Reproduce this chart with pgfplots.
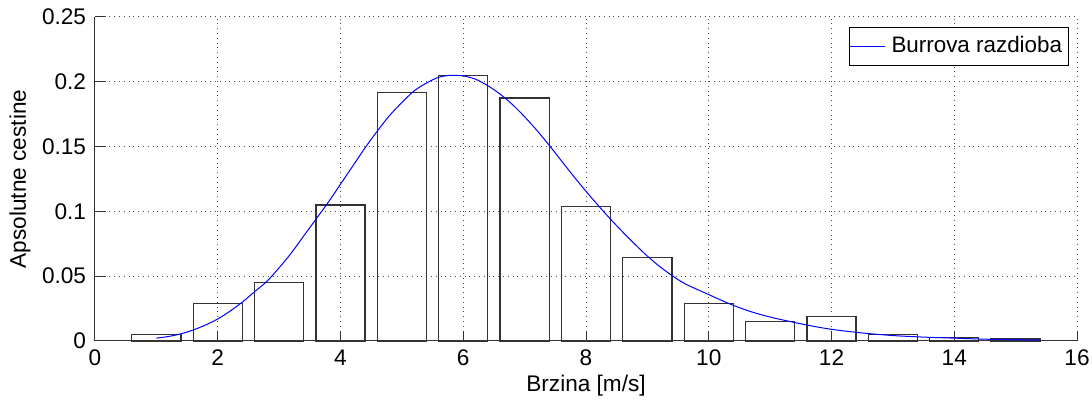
\documentclass[border=0pt]{standalone}
\usepackage{fontspec}
\setmainfont{Liberation Sans}
\usepackage{pgfplots}
\pgfplotsset{compat=1.18}
\begin{document}
\fontsize{11.3}{13.5}\selectfont
\begin{tikzpicture}
\begin{axis}[
  scale only axis,
  width=491pt, height=162pt,
  xmin=0, xmax=16, ymin=0, ymax=0.25,
  axis x line*=bottom, axis y line*=left,
  axis line style={-, black!80, line width=0.5pt},
  xtick={0,2,4,6,8,10,12,14,16},
  xticklabels={0,2,4,6,8,10,12,14,16},
  ytick={0,0.05,0.1,0.15,0.2,0.25},
  yticklabels={0,0.05,0.1,0.15,0.2,0.25},
  tick align=inside,
  major tick length=5pt,
  tick style={black!80, line width=0.5pt},
  grid=major,
  major grid style={dotted, black!70, line width=0.5pt},
  ticklabel style={font=\fontsize{11.3}{13.5}\selectfont},
  xticklabel style={yshift=-0.5pt},
  yticklabel style={xshift=-0.5pt},
  xlabel={Brzina [m/s]},
  ylabel={Apsolutne cestine},
  label style={font=\fontsize{11.3}{13.5}\selectfont},
  xlabel style={yshift=3pt},
  ylabel style={yshift=-2pt},
  legend style={at={(1,1)}, xshift=-4pt, yshift=-5pt, anchor=north east, draw=black, fill=white,
    font=\fontsize{11.2}{13}\selectfont, inner xsep=0pt, inner ysep=2.5pt, line width=0.5pt,
    nodes={inner xsep=3.2pt}},
  legend cell align=left,
  legend image code/.code={\draw[#1] (-2.5pt,0pt) -- (15pt,0pt);},
  clip=false,
]
\addplot[ybar, bar width=0.8, bar shift=0pt, draw=black!80, fill=none, line width=0.6pt, forget plot] coordinates {
  (1,0.0052) (2,0.0290) (3,0.0450) (4,0.1050) (5,0.1920) (6,0.2050) (7,0.1875)
  (8,0.1040) (9,0.0645) (10,0.0288) (11,0.0149) (12,0.0188) (13,0.0049)
  (14,0.0028) (15,0.0015)
};
\addplot[blue, line width=0.5pt, smooth] coordinates {
  (1.0,0.0022) (1.2,0.0035) (1.4,0.0055) (1.6,0.0085) (1.8,0.0123) (2.0,0.0170)
  (2.2,0.0230) (2.4,0.0300) (2.6,0.0380) (2.8,0.0460) (3.0,0.0565) (3.2,0.0680)
  (3.4,0.0810) (3.6,0.0940) (3.8,0.1070) (4.0,0.1210) (4.2,0.1350) (4.4,0.1490)
  (4.6,0.1620) (4.8,0.1740) (5.0,0.1840) (5.2,0.1930) (5.4,0.1990) (5.6,0.2035)
  (5.8,0.2050) (6.0,0.2045) (6.2,0.2020) (6.4,0.1970) (6.6,0.1905) (6.8,0.1825)
  (7.0,0.1730) (7.2,0.1625) (7.4,0.1510) (7.6,0.1390) (7.8,0.1270) (8.0,0.1155)
  (8.2,0.1045) (8.4,0.0940) (8.6,0.0840) (8.8,0.0745) (9.0,0.0655) (9.2,0.0575)
  (9.4,0.0505) (9.6,0.0445) (9.8,0.0400) (10.0,0.0358) (10.2,0.0315)
  (10.4,0.0275) (10.6,0.0240) (10.8,0.0210) (11.0,0.0185) (11.2,0.0163)
  (11.6,0.0123) (12.0,0.0090) (12.5,0.0062) (13.0,0.0042) (13.5,0.0030)
  (14.0,0.0022) (14.5,0.0014) (15.0,0.0010) (15.4,0.0007)
};
\addlegendentry{Burrova razdioba}
\end{axis}
\pgfresetboundingbox
\useasboundingbox ([shift={(-47.5pt,-31.5pt)}]current axis.south west) rectangle ([shift={(7.5pt,8.5pt)}]current axis.north east);
\end{tikzpicture}
\end{document}
